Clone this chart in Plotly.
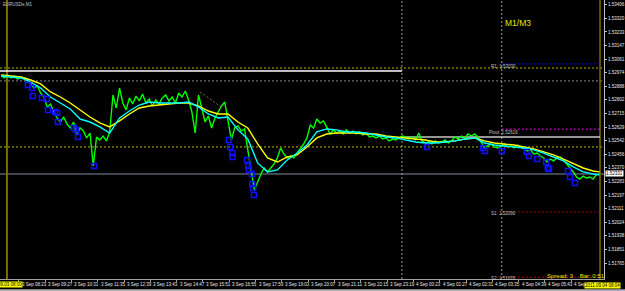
import pandas as pd
import plotly.graph_objects as go

# ---------------- data ----------------
symbol_title = "EURUSDe,M1"
series_start = "2011-09-03 07:40"

close_prices = [
    1.52953, 1.52941, 1.52960, 1.52941, 1.52953, 1.52934, 1.52947, 1.52941, 1.52928, 1.52903,
    1.52877, 1.52890, 1.52845, 1.52820, 1.52757, 1.52776, 1.52725, 1.52687, 1.52661, 1.52693,
    1.52649, 1.52623, 1.52661, 1.52579, 1.52623, 1.52604, 1.52560, 1.52591, 1.52382, 1.52566,
    1.52547, 1.52572, 1.52541, 1.52598, 1.52833, 1.52750, 1.52877, 1.52782, 1.52738, 1.52814,
    1.52776, 1.52826, 1.52795, 1.52839, 1.52782, 1.52807, 1.52763, 1.52801, 1.52776, 1.52814,
    1.52833, 1.52795, 1.52820, 1.52782, 1.52845, 1.52820, 1.52858, 1.52801, 1.52725, 1.52591,
    1.52833, 1.52750, 1.52661, 1.52699, 1.52623, 1.52687, 1.52725, 1.52763, 1.52788, 1.52674,
    1.52547, 1.52623, 1.52636, 1.52604, 1.52617, 1.52484, 1.52344, 1.52230, 1.52280, 1.52331,
    1.52369, 1.52344, 1.52369, 1.52395, 1.52433, 1.52496, 1.52458, 1.52433, 1.52445, 1.52433,
    1.52464, 1.52490, 1.52522, 1.52560, 1.52642, 1.52623, 1.52680, 1.52655, 1.52668, 1.52630,
    1.52585, 1.52611, 1.52591, 1.52604, 1.52585, 1.52611, 1.52591, 1.52604, 1.52585, 1.52598,
    1.52579, 1.52591, 1.52566, 1.52572, 1.52560, 1.52572, 1.52553, 1.52560, 1.52541, 1.52553,
    1.52547, 1.52560, 1.52572, 1.52566, 1.52553, 1.52566, 1.52547, 1.52591, 1.52541, 1.52528,
    1.52534, 1.52522, 1.52541, 1.52528, 1.52534, 1.52547, 1.52528, 1.52541, 1.52566, 1.52553,
    1.52572, 1.52560, 1.52585, 1.52572, 1.52585, 1.52566, 1.52534, 1.52496, 1.52509, 1.52522,
    1.52503, 1.52496, 1.52509, 1.52522, 1.52503, 1.52509, 1.52496, 1.52515, 1.52503, 1.52490,
    1.52477, 1.52484, 1.52458, 1.52464, 1.52445, 1.52433, 1.52407, 1.52426, 1.52414, 1.52433,
    1.52439, 1.52420, 1.52395, 1.52369, 1.52344, 1.52312, 1.52299, 1.52318, 1.52306, 1.52312,
    1.52299, 1.52325, 1.52331,
]

ma_slow = [
    1.52960, 1.52953, 1.52947, 1.52928, 1.52903, 1.52852, 1.52820, 1.52782, 1.52738, 1.52693,
    1.52655, 1.52630, 1.52668, 1.52712, 1.52750, 1.52763, 1.52769, 1.52776, 1.52782, 1.52782,
    1.52763, 1.52731, 1.52712, 1.52712, 1.52661, 1.52623, 1.52522, 1.52433, 1.52407, 1.52439,
    1.52452, 1.52503, 1.52560, 1.52585, 1.52591, 1.52591, 1.52591, 1.52585, 1.52585, 1.52572,
    1.52566, 1.52560, 1.52553, 1.52547, 1.52534, 1.52534, 1.52541, 1.52553, 1.52560, 1.52541,
    1.52528, 1.52522, 1.52515, 1.52503, 1.52490, 1.52471, 1.52452, 1.52426, 1.52395, 1.52369,
    1.52350, 1.52344,
]

ma_fast = [
    1.52953, 1.52947, 1.52941, 1.52915, 1.52877, 1.52820, 1.52782, 1.52744, 1.52680, 1.52661,
    1.52630, 1.52591, 1.52687, 1.52731, 1.52769, 1.52788, 1.52782, 1.52782, 1.52782, 1.52788,
    1.52757, 1.52712, 1.52687, 1.52693, 1.52611, 1.52553, 1.52401, 1.52344, 1.52357, 1.52420,
    1.52464, 1.52515, 1.52598, 1.52617, 1.52611, 1.52598, 1.52598, 1.52591, 1.52579, 1.52566,
    1.52560, 1.52547, 1.52534, 1.52528, 1.52528, 1.52534, 1.52541, 1.52553, 1.52560, 1.52528,
    1.52515, 1.52509, 1.52503, 1.52496, 1.52484, 1.52464, 1.52439, 1.52414, 1.52376, 1.52344,
    1.52331, 1.52325,
]
ma_last_time = "2011-09-04 07:56"

signal_minutes = [45, 55, 57, 79, 91, 94, 111, 116, 118, 157, 162, 167, 206,
                  534, 537, 542, 543, 578, 581, 583, 590, 591, 593, 595,
                  1016, 1152, 1157, 1198, 1259, 1264, 1284, 1306, 1310, 1313, 1359, 1364, 1376]
signal_prices = [1.52896, 1.52877, 1.52826, 1.52814, 1.52807, 1.52738, 1.52725, 1.52718, 1.52661,
                 1.52623, 1.52611, 1.52566, 1.52382,
                 1.52547, 1.52503, 1.52464, 1.52439, 1.52420, 1.52382, 1.52357, 1.52331, 1.52268,
                 1.52242, 1.52198,
                 1.52503, 1.52496, 1.52477, 1.52477, 1.52471, 1.52445, 1.52426, 1.52407, 1.52369,
                 1.52363, 1.52350, 1.52312, 1.52274]
signal_base = "2011-09-03 08:00"

x_tick_text = ["3 Sep 08:23", "3 Sep 09:27", "3 Sep 10:31", "3 Sep 11:35", "3 Sep 12:39",
               "3 Sep 13:43", "3 Sep 14:47", "3 Sep 15:51", "3 Sep 16:55", "3 Sep 17:59",
               "3 Sep 19:03", "3 Sep 20:07", "3 Sep 21:11", "3 Sep 22:15", "3 Sep 23:19",
               "4 Sep 00:23", "4 Sep 01:27", "4 Sep 02:31", "4 Sep 03:35", "4 Sep 04:39",
               "4 Sep 05:43", "4 Sep 06:47"]

y_tick_text = ["1.53406", "1.53320", "1.53233", "1.53147", "1.53061", "1.52974", "1.52888",
               "1.52802", "1.52715", "1.52629", "1.52542", "1.52456", "1.52370", "1.52283",
               "1.52197", "1.52111", "1.52024", "1.51938", "1.51851", "1.51765"]

x_range = ["2011-09-03 07:37:06", "2011-09-04 08:06:42"]
y_range = [1.51664, 1.53436]

r1_level, pivot_level, s1_level, s2_level = 1.53030, 1.52616, 1.52090, 1.51676
yellow_dot_levels = [1.53004, 1.52503]
gray_dot_level = 1.52922
prev_range_level = 1.52985
today_range_level = 1.52566
bid_price = 1.52331
day_separator = "2011-09-03 23:55"
pivot_start = "2011-09-04 03:58"
chart_end = "2011-09-04 07:57"
left_marker = "2011-09-03 07:54"
trend_x = ["2011-09-03 15:44", "2011-09-03 16:35"]
trend_y = [1.52852, 1.52757]

# ---------------- derived ----------------
close_times = pd.date_range(series_start, periods=len(close_prices), freq="8min")
ma_times = list(pd.date_range(series_start, periods=len(ma_slow) - 1, freq="24min")) + [pd.Timestamp(ma_last_time)]
signal_times = pd.Timestamp(signal_base) + pd.to_timedelta(signal_minutes, unit="min")


def tick_time(lbl):
    d, _, hm = lbl.split()
    return "2011-09-0%s %s" % (d, hm)


x_tick_vals = [tick_time(t) for t in x_tick_text]
y_tick_vals = [float(t) for t in y_tick_text]

FONT = "Liberation Sans"

fig = go.Figure()
fig.add_trace(go.Scatter(x=close_times, y=close_prices, mode="lines",
                         line=dict(color="#00ff00", width=1.4), hoverinfo="skip"))
fig.add_trace(go.Scatter(x=ma_times, y=ma_slow, mode="lines",
                         line=dict(color="#ffff00", width=1.4), hoverinfo="skip"))
fig.add_trace(go.Scatter(x=ma_times, y=ma_fast, mode="lines",
                         line=dict(color="#00ffff", width=1.4), hoverinfo="skip"))
fig.add_trace(go.Scatter(x=signal_times, y=signal_prices, mode="markers",
                         marker=dict(symbol="square-open", size=5, color="#1010ff",
                                     line=dict(color="#1010ff", width=1.5)),
                         hoverinfo="skip"))

shapes = []


def hline(y, x0, x1, color, dash="solid", width=1, xref="x"):
    shapes.append(dict(type="line", xref=xref, yref="y", x0=x0, x1=x1, y0=y, y1=y,
                       line=dict(color=color, width=width, dash=dash), layer="below"))


def vline(x, color, dash="solid", width=1):
    shapes.append(dict(type="line", xref="x", yref="paper", x0=x, x1=x, y0=0, y1=1,
                       line=dict(color=color, width=width, dash=dash), layer="below"))


for lv in yellow_dot_levels:
    hline(lv, 0, 1, "#b8b800", "2px,2px", xref="paper")
hline(gray_dot_level, 0, 1, "#8c8c8c", "2px,2px", xref="paper")
hline(prev_range_level, x_range[0], day_separator, "#ffffff", width=1.5)
hline(today_range_level, day_separator, chart_end, "#c8c8c8", width=1.5)
hline(bid_price, 0, 1, "#7f8c99", xref="paper")
hline(r1_level, pivot_start, chart_end, "#0000ff", "2px,2px")
hline(pivot_level, pivot_start, chart_end, "#ff00ff", "2px,2px")
hline(s1_level, pivot_start, chart_end, "#a00000", "2px,2px")
hline(s2_level, pivot_start, chart_end, "#c00000", "2px,2px")
vline(day_separator, "#a0a0a0", "2px,2px")
vline(pivot_start, "#a0a0a0", "2px,2px")
vline(left_marker, "#7a6e00", width=2)
vline(chart_end, "#7a6e00", width=1.5)
shapes.append(dict(type="line", xref="x", yref="y", x0=trend_x[0], x1=trend_x[1],
                   y0=trend_y[0], y1=trend_y[1],
                   line=dict(color="#707070", width=1, dash="2px,2px")))
# bottom scroll strip
shapes.append(dict(type="rect", xref="paper", yref="paper", x0=0, x1=1.04,
                   y0=-0.0445, y1=-0.037, line=dict(width=0), fillcolor="#b0b0b0"))

ann = []


def text(x, y, s, color, size, xref="paper", yref="paper", xanchor="left",
         yanchor="middle", bg=None, yshift=0, xshift=0):
    d = dict(x=x, y=y, xref=xref, yref=yref, text=s, showarrow=False,
             xanchor=xanchor, yanchor=yanchor, yshift=yshift, xshift=xshift,
             font=dict(color=color, size=size, family=FONT))
    if bg:
        d.update(bgcolor=bg, borderpad=0)
    ann.append(d)


pivot_text_x = "2011-09-04 03:27"
text(0.002, 0.985, symbol_title, "#c0c0c0", 4.5)
text(0.833, 0.918, "M1/M3", "#e6e600", 8.5)
text(pivot_text_x, r1_level, "R1: 1.53030", "#c0c0c0", 4.5, xref="x", yref="y", yshift=-3)
text(pivot_text_x, pivot_level, "Pivot: 1.52616", "#c0c0c0", 4.5, xref="x", yref="y", xshift=-2, yshift=-3)
text(pivot_text_x, s1_level, "S1: 1.52090", "#c0c0c0", 4.5, xref="x", yref="y", yshift=-2)
text(pivot_text_x, s2_level, "S2: 1.51676", "#c0c0c0", 4.5, xref="x", yref="y", yshift=-1)
text(0.902, 0.012, "Spread: 3 &nbsp;&nbsp; Bar: 0:51", "#e6e600", 6)
text(1.0, bid_price, "1.52331", "#000000", 4.5, yref="y", bg="#ffffff", xshift=1)

# time-axis labels (left-aligned at their tick, MetaTrader style)
for tv, tt in zip(x_tick_vals, x_tick_text):
    text(tv, -0.005, tt, "#e8e8e8", 4.5, xref="x", yanchor="top", xshift=1)

text(23 / 604, -0.018, "2011.09.03 08:00", "#000000", 4.5, xanchor="right", bg="#ffff00")
text(584 / 604, -0.022, "2011.09.04 08:04", "#000000", 4.5, bg="#ffff00")

fig.update_layout(
    width=625, height=291,
    margin=dict(l=0, r=21, t=0, b=12, pad=0),
    paper_bgcolor="#000000", plot_bgcolor="#000000",
    showlegend=False, hovermode=False,
    shapes=shapes, annotations=ann,
    font=dict(family=FONT, color="#e0e0e0", size=4.5),
    xaxis=dict(type="date", range=x_range, showgrid=False, zeroline=False,
               showline=True, linecolor="#a0a0a0", linewidth=1,
               tickvals=x_tick_vals, ticktext=[""] * len(x_tick_vals),
               ticks="outside", ticklen=2, tickcolor="#a0a0a0",
               automargin=False, fixedrange=True),
    yaxis=dict(side="right", range=y_range, showgrid=False, zeroline=False,
               showline=True, linecolor="#c0c0c0", linewidth=1,
               tickvals=y_tick_vals, ticktext=y_tick_text,
               ticks="outside", ticklen=2, tickcolor="#c0c0c0",
               tickfont=dict(size=4.5, color="#e8e8e8", family=FONT),
               automargin=False, fixedrange=True),
)

fig.write_html("out.html")
